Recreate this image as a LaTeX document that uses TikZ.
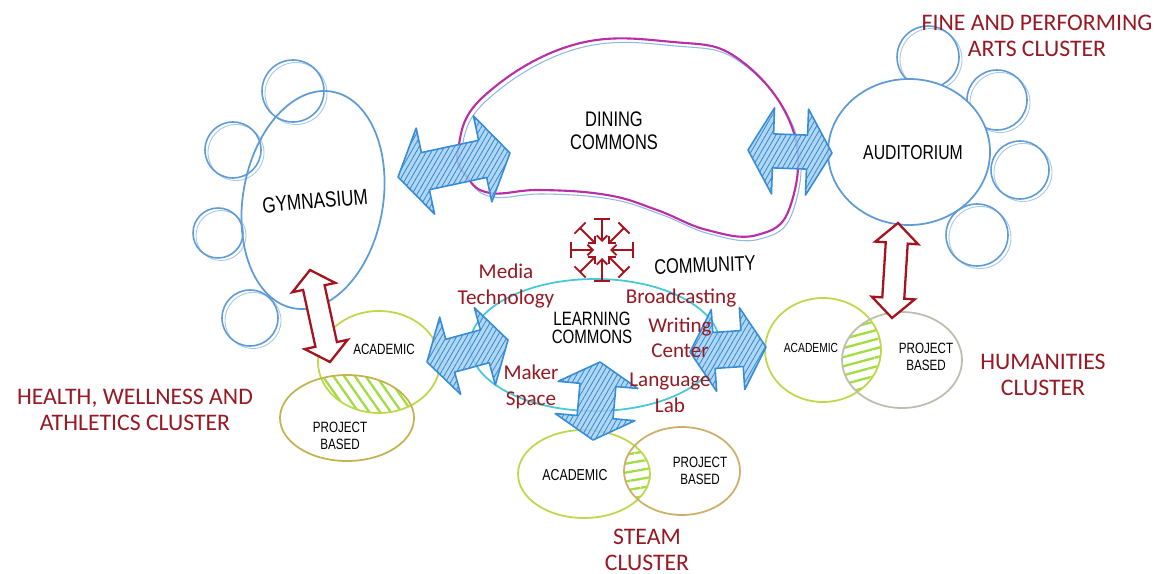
\documentclass[tikz,border=0pt]{standalone}
\usepackage{fontspec}
\setmainfont{Carlito}
\newfontfamily\hand[FakeStretch=0.78]{Liberation Sans}
\usetikzlibrary{shapes.geometric,arrows.meta,patterns.meta,calc}
\definecolor{skblue}{RGB}{95,155,215}
\definecolor{arblue}{RGB}{55,140,215}
\definecolor{arfill}{RGB}{165,208,240}
\definecolor{dinmag}{RGB}{185,45,165}
\definecolor{lcyan}{RGB}{70,200,215}
\definecolor{lime}{RGB}{190,215,75}
\definecolor{olive}{RGB}{195,180,80}
\definecolor{pgray}{RGB}{190,190,175}
\definecolor{ptan}{RGB}{205,175,105}
\definecolor{lblred}{RGB}{150,25,35}
\definecolor{arred}{RGB}{165,20,30}
% fat double arrow: style, from, to, half shaft, half head, head length
\newcommand\dblarrow[6]{%
	\coordinate (p1) at ($(#2)!#6!(#3)$);
	\coordinate (p2) at ($(#3)!#6!(#2)$);
	\draw[#1] (#2) -- ($(p1)!#5!90:(#3)$) -- ($(p1)!#4!90:(#3)$) -- ($(p2)!#4!-90:(#2)$)
		-- ($(p2)!#5!-90:(#2)$) -- (#3) -- ($(p2)!#5!90:(#2)$) -- ($(p2)!#4!90:(#2)$)
		-- ($(p1)!#4!-90:(#3)$) -- ($(p1)!#5!-90:(#3)$) -- cycle;}

\begin{document}
\begin{tikzpicture}[x=0.2mm,y=-0.2mm,
	pod/.style={circle, draw=skblue, line width=0.9pt, inner sep=0pt,
		preaction={draw=skblue!55, line width=0.5pt, transform canvas={shift={(0.6mm,-0.5mm)}}}},
	hall/.style={ellipse, draw=skblue, line width=1pt, inner sep=0pt},
	handbig/.style={font=\hand\fontsize{12}{13}\selectfont, align=center},
	handsm/.style={font=\hand\fontsize{8.5}{9.5}\selectfont, align=center},
	clus/.style={text=lblred, align=center, font=\fontsize{13.5}{14.5}\selectfont},
	spot/.style={text=lblred, align=center, font=\fontsize{12}{14.5}\selectfont},
	hatch/.style={pattern={Lines[angle=#1,distance=5pt,line width=1.3pt]}, pattern color=lime!85!green},
	bluearr/.style={draw=arblue, line width=0.9pt, line join=round,
		preaction={fill=arfill, fill opacity=0.85},
		pattern={Lines[angle=60,distance=2.5pt,line width=0.5pt]}, pattern color=arblue},
	redarr/.style={draw=arred, fill=white, line width=1.3pt}]

\fill[white] (0,0) rectangle (1158,574);
\useasboundingbox (0,0) rectangle (1158,574);

% gymnasium
\foreach \p/\x/\y/\r in {g1/293/91/31, g2/233/150/28, g3/218/233/25, g4/250/318/28}
	\node[pod, minimum size=\r*0.4mm] (\p) at (\x,\y) {};
\node[hall, minimum width=28mm, minimum height=44mm, rotate=-10] (gym) at (313,200) {};
\node[handbig, font=\hand\fontsize{12.5}{13}\selectfont, rotate=5] (gymtx) at (315,201) {GYMNASIUM};

% dining commons
\draw[skblue!70, line width=0.6pt, shift={(3,4)}] plot[smooth cycle, tension=0.7] coordinates {(458,150) (483,97) (573,45) (673,42) (740,60) (793,130) (790,207) (757,235) (707,230) (657,210) (607,195) (540,190) (490,193) (467,177)};
\draw[dinmag, line width=1.2pt] plot[smooth cycle, tension=0.7] coordinates {(458,150) (483,97) (573,45) (673,42) (740,60) (793,130) (790,207) (757,235) (707,230) (657,210) (607,195) (540,190) (490,193) (467,177)};
\node[handbig] (din) at (614,131) {DINING\\COMMONS};

% auditorium
\foreach \p/\x/\y/\r in {a1/928/57/31, a2/997/100/30, a3/1020/170/29, a4/977/235/31}
	\node[pod, minimum size=\r*0.4mm] (\p) at (\x,\y) {};
\node[hall, minimum width=32.4mm, minimum height=29.2mm, fill=white] (aud) at (909,152) {};
\node[handbig, font=\hand\fontsize{11.5}{13}\selectfont] (audtx) at (913,153) {AUDITORIUM};

% learning commons
\node[ellipse, draw=lcyan, line width=1pt, minimum width=50mm, minimum height=26.4mm] (lrn) at (595,345) {};
\node[handbig, font=\hand\fontsize{11}{10.5}\selectfont] (lrntx) at (592,328) {LEARNING\\COMMONS};

% community
\coordinate (hub) at (602,250);
\foreach \a in {0,45,...,315}
	\draw[arred, line width=1.1pt, {Straight Barb[length=3pt,width=6pt]}-{Bar[width=9pt]}] (hub) ++(\a:8) -- ++(\a:24);
\node[handbig, rotate=2] (com) at (705,265) {COMMUNITY};

% clusters
\begin{scope}
	\clip (379,362) ellipse [x radius=61, y radius=51];
	\fill[hatch=-55] (347,418) ellipse [x radius=67, y radius=43];
\end{scope}
\begin{scope}
	\clip (823,350) ellipse [x radius=58, y radius=52];
	\fill[hatch=15] (902,360) ellipse [x radius=60, y radius=48];
\end{scope}
\begin{scope}
	\clip (584,474) ellipse [x radius=66, y radius=44];
	\fill[hatch=10] (682,471) ellipse [x radius=58, y radius=44];
\end{scope}
\node[ellipse, draw=lime, line width=1pt, minimum width=24.4mm, minimum height=20.4mm] (lac) at (379,362) {};
\node[ellipse, draw=olive, line width=1pt, minimum width=26.8mm, minimum height=17.2mm] (lpr) at (347,418) {};
\node[ellipse, draw=lime, line width=1pt, minimum width=23.2mm, minimum height=20.8mm] (hac) at (823,350) {};
\node[ellipse, draw=pgray, line width=1pt, minimum width=24mm, minimum height=19.2mm] (hpr) at (902,360) {};
\node[ellipse, draw=lime, line width=1pt, minimum width=26.4mm, minimum height=17.6mm] (sac) at (584,474) {};
\node[ellipse, draw=ptan, line width=1pt, minimum width=23.2mm, minimum height=17.6mm] (spr) at (682,471) {};
\node[handsm] (lactx) at (384,349) {ACADEMIC};
\node[handsm] (lprtx) at (340,436) {PROJECT\\BASED};
\node[handsm, font=\hand\fontsize{7.5}{9}\selectfont] (hactx) at (811,348) {ACADEMIC};
\node[handsm] (hprtx) at (926,357) {PROJECT\\BASED};
\node[handsm, font=\hand\fontsize{9}{10}\selectfont] (sactx) at (575,475) {ACADEMIC};
\node[handsm] (sprtx) at (700,471) {PROJECT\\BASED};

% arrows
\coordinate (gymE) at (398,177); \coordinate (dinW) at (510,153);
\coordinate (dinE) at (748,150); \coordinate (audW) at (832,153);
\coordinate (lacE) at (427,362); \coordinate (lrnW) at (508,340);
\coordinate (lrnE) at (690,352); \coordinate (hacW) at (766,347);
\coordinate (lrnS) at (600,362); \coordinate (sacN) at (593,440);
\coordinate (gymS) at (310,270); \coordinate (lacN) at (330,362);
\coordinate (audS) at (898,223); \coordinate (hacN) at (892,318);
\dblarrow{bluearr}{gymE}{dinW}{3.8mm}{8.8mm}{5.6mm}
\dblarrow{bluearr}{dinE}{audW}{3.4mm}{8.6mm}{5mm}
\dblarrow{bluearr}{lacE}{lrnW}{3.4mm}{8mm}{4.8mm}
\dblarrow{bluearr}{lrnE}{hacW}{3.6mm}{8.2mm}{4.8mm}
\dblarrow{bluearr}{lrnS}{sacN}{3.6mm}{8mm}{4.6mm}
\dblarrow{redarr}{gymS}{lacN}{2.2mm}{4.4mm}{3.6mm}
\dblarrow{redarr}{audS}{hacN}{2.2mm}{4.3mm}{4mm}

% labels
\node[clus] (fpa) at (1037,36) {FINE AND PERFORMING\\ARTS CLUSTER};
\node[clus] (hwa) at (135,410) {HEALTH, WELLNESS AND\\ATHLETICS CLUSTER};
\node[clus] (hum) at (1043,375) {HUMANITIES\\CLUSTER};
\node[clus] (stm) at (647,550) {STEAM\\CLUSTER};
\node[spot] (med) at (506,286) {Media\\Technology};
\node[spot] (brd) at (681,298) {Broadcasting};
\node[spot] (wrt) at (680,338) {Writing\\Center};
\node[spot] (mkr) at (531,387) {Maker\\Space};
\node[spot] (lng) at (670,393) {Language\\Lab};
\end{tikzpicture}
\end{document}
